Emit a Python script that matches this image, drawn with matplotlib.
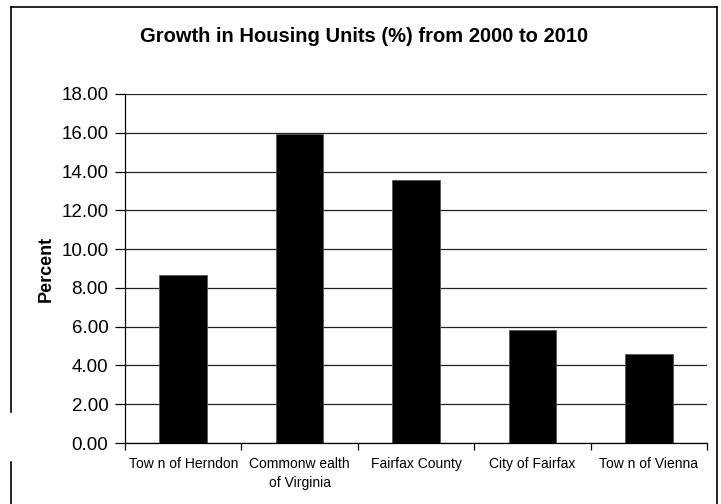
import matplotlib
matplotlib.use("Agg")
import matplotlib.pyplot as plt
from matplotlib.lines import Line2D

# data
places = ["Tow n of Herndon", "Commonw ealth\nof Virginia", "Fairfax County",
          "City of Fairfax", "Tow n of Vienna"]
growth = [8.67, 15.93, 13.57, 5.84, 4.60]
yticks = [0, 2, 4, 6, 8, 10, 12, 14, 16, 18]

plt.rcParams["font.family"] = ["Liberation Sans", "DejaVu Sans"]

fig = plt.figure(figsize=(7.21, 5.04), dpi=100)
ax = fig.add_axes([125 / 721, 1 - 443 / 504, (707 - 125) / 721, (443 - 94) / 504])

x = list(range(len(places)))
ax.bar(x, growth, width=0.41, color="black", edgecolor="#555555", linewidth=0.6, zorder=3)

ax.set_xlim(-0.5, len(places) - 0.5)
ax.set_ylim(0, 18)
ax.set_yticks(yticks)
ax.set_yticklabels([f"{v:.2f}" for v in yticks], fontsize=13.5)
ax.yaxis.grid(True, color="#222222", linewidth=0.9, zorder=0)
ax.set_axisbelow(True)

# category labels centred, tick marks on the category boundaries
ax.set_xticks(x)
ax.set_xticklabels(places, fontsize=10, linespacing=1.45)
ax.tick_params(axis="x", length=0, pad=10)
ax.set_xticks([i - 0.5 for i in range(len(places) + 1)], minor=True)
ax.tick_params(axis="x", which="minor", length=5, width=0.9, direction="out")
ax.tick_params(axis="y", length=7, width=0.9, direction="out", pad=5)

for s in ["top", "right"]:
    ax.spines[s].set_visible(False)
ax.spines["left"].set_linewidth(0.9)
ax.spines["bottom"].set_linewidth(0.9)

ax.set_ylabel("Percent", fontsize=13, fontweight="bold", labelpad=5)
fig.text(364 / 721, 1 - 37 / 504, "Growth in Housing Units (%) from 2000 to 2010",
         ha="center", va="center", fontsize=14.5, fontweight="bold")

# outer chart frame (open at the bottom, broken on the left like the source)
W, H = 721, 504
frame = [
    ([11, 717], [7, 7]),
    ([717, 717], [7, 504]),
    ([11, 11], [7, 412]),
    ([11, 11], [462, 504]),
]
for xs, ys in frame:
    fig.add_artist(Line2D([v / W for v in xs], [1 - v / H for v in ys],
                          color="black", linewidth=1.2))

fig.savefig("out.png", dpi=100)
